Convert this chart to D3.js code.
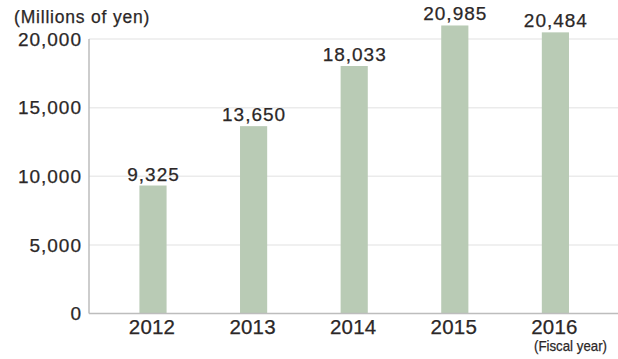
<!DOCTYPE html>
<html>
<head>
<meta charset="utf-8">
<script src="https://cdn.jsdelivr.net/npm/d3@7"></script>
<style>
  html, body { margin: 0; padding: 0; background: #fff; }
  svg { display: block; }
  text {
    font-family: "Liberation Sans", Arial, Helvetica, sans-serif;
    fill: #2b2727;
    stroke: #2b2727;
    stroke-width: 0.25px;
  }
</style>
</head>
<body>
<svg id="chart" width="618" height="359"></svg>
<script>
// Fiscal years and amounts (millions of yen)
const years = ["2012", "2013", "2014", "2015", "2016"];
const amounts = [9325, 13650, 18033, 20985, 20484];
const yTicks = [0, 5000, 10000, 15000, 20000];
const unitLabel = "(Millions of yen)";
const periodLabel = "(Fiscal year)";

const plotLeft = 89, plotRight = 618, plotTop = 39, plotBottom = 313.5;

const svg = d3.select("#chart");

const y = d3.scaleLinear().domain([0, 20000]).range([plotBottom, plotTop]);
const x = d3.scaleBand()
  .domain(years)
  .range([102.7, 605.7])
  .paddingInner(0.73)
  .paddingOuter(0.365);

const fmt = d3.format(",");

// horizontal gridlines
svg.append("g")
  .selectAll("line")
  .data(yTicks.filter(t => t > 0))
  .join("line")
  .attr("x1", plotLeft).attr("x2", plotRight)
  .attr("y1", d => y(d)).attr("y2", d => y(d))
  .attr("stroke", "#ebebeb")
  .attr("stroke-width", 1.5);

// bars
svg.append("g")
  .selectAll("rect")
  .data(amounts)
  .join("rect")
  .attr("x", (d, i) => x(years[i]))
  .attr("width", x.bandwidth())
  .attr("y", d => y(d))
  .attr("height", d => y(0) - y(d))
  .attr("fill", "#b9cbb5");

// axis lines
svg.append("line")
  .attr("x1", plotLeft).attr("x2", plotLeft)
  .attr("y1", plotTop).attr("y2", plotBottom)
  .attr("stroke", "#bdbdbd").attr("stroke-width", 1.5);
svg.append("line")
  .attr("x1", plotLeft).attr("x2", plotRight)
  .attr("y1", plotBottom).attr("y2", plotBottom)
  .attr("stroke", "#bdbdbd").attr("stroke-width", 1.5);

// y tick labels
const tickSpacing = 1.0;
svg.append("g")
  .selectAll("text")
  .data(yTicks)
  .join("text")
  .attr("x", 81 + tickSpacing)
  .attr("y", d => y(d))
  .attr("dy", "0.36em")
  .attr("text-anchor", "end")
  .style("font-size", "19px")
  .style("letter-spacing", tickSpacing + "px")
  .text(d => fmt(d));

// value labels above bars
svg.append("g")
  .selectAll("text")
  .data(amounts)
  .join("text")
  .attr("x", (d, i) => x(years[i]) + x.bandwidth() / 2 + 0.5)
  .attr("y", d => y(d) - 5)
  .attr("text-anchor", "middle")
  .style("font-size", "19px")
  .style("letter-spacing", "1px")
  .text(d => fmt(d));

// year labels
svg.append("g")
  .selectAll("text")
  .data(years)
  .join("text")
  .attr("x", d => x(d) + x.bandwidth() / 2 - 1)
  .attr("y", 333.5)
  .attr("text-anchor", "middle")
  .style("font-size", "20.5px")
  .style("letter-spacing", "0.2px")
  .text(d => d);

// unit label
svg.append("text")
  .attr("x", 14)
  .attr("y", 22.5)
  .style("font-size", "17.5px")
  .style("letter-spacing", "0.8px")
  .text(unitLabel);

// period label
svg.append("text")
  .attr("x", 534)
  .attr("y", 351)
  .attr("textLength", 73)
  .attr("lengthAdjust", "spacingAndGlyphs")
  .style("font-size", "15px")
  .text(periodLabel);
</script>
</body>
</html>
